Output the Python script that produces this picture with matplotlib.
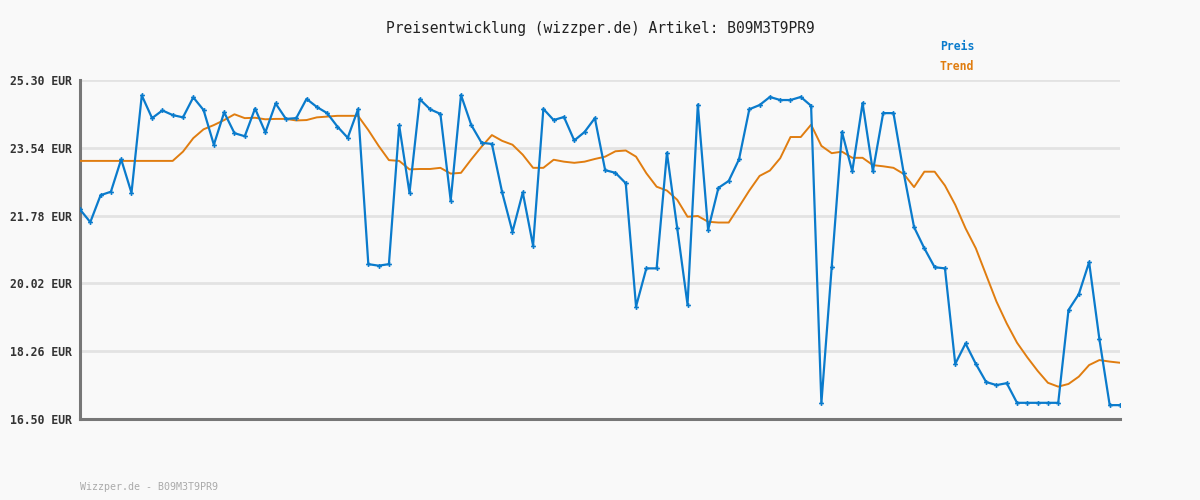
import matplotlib
matplotlib.use("Agg")
import matplotlib.pyplot as plt
import numpy as np

# price readings (EUR), one per step
preis = [21.94, 21.61, 22.31, 22.40, 23.24, 22.37, 24.90, 24.31, 24.51, 24.39,
         24.33, 24.85, 24.52, 23.62, 24.46, 23.92, 23.84, 24.56, 23.94, 24.69,
         24.29, 24.31, 24.81, 24.60, 24.44, 24.09, 23.80, 24.54, 20.52, 20.48,
         20.52, 24.12, 22.37, 24.80, 24.54, 24.42, 22.17, 24.91, 24.13, 23.67,
         23.64, 22.38, 21.36, 22.38, 21.00, 24.55, 24.26, 24.34, 23.73, 23.95,
         24.31, 22.96, 22.89, 22.62, 19.42, 20.41, 20.41, 23.41, 21.45, 19.47,
         24.66, 21.41, 22.50, 22.68, 23.24, 24.54, 24.65, 24.86, 24.78, 24.78,
         24.86, 24.63, 16.91, 20.44, 23.95, 22.93, 24.70, 22.93, 24.44, 24.44,
         22.88, 21.48, 20.93, 20.44, 20.41, 17.93, 18.46, 17.93, 17.46, 17.38,
         17.43, 16.92, 16.92, 16.92, 16.92, 16.92, 19.33, 19.74, 20.57, 18.57,
         16.86, 16.86]

trend = [23.20, 23.20, 23.20, 23.20, 23.20, 23.20, 23.20, 23.20, 23.20, 23.20,
         23.44, 23.79, 24.02, 24.13, 24.26, 24.41, 24.31, 24.32, 24.28, 24.29,
         24.29, 24.25, 24.26, 24.33, 24.35, 24.37, 24.37, 24.37, 24.00, 23.59,
         23.22, 23.20, 22.98, 22.99, 22.99, 23.02, 22.87, 22.89, 23.24, 23.57,
         23.87, 23.72, 23.62, 23.36, 23.02, 23.02, 23.23, 23.18, 23.15, 23.18,
         23.25, 23.31, 23.45, 23.47, 23.31, 22.88, 22.53, 22.43, 22.19, 21.75,
         21.77, 21.62, 21.60, 21.60, 22.01, 22.43, 22.81, 22.95, 23.27, 23.82,
         23.82, 24.14, 23.59, 23.40, 23.44, 23.28, 23.28, 23.09, 23.06, 23.02,
         22.86, 22.52, 22.92, 22.92, 22.56, 22.06, 21.45, 20.93, 20.24, 19.55,
         18.98, 18.48, 18.10, 17.75, 17.44, 17.34, 17.41, 17.60, 17.90, 18.03,
         17.99, 17.96]

y_ticks = [16.50, 18.26, 20.02, 21.78, 23.54, 25.30]
artikel = "B09M3T9PR9"

mono = "DejaVu Sans Mono"
bg = "#f9f9f9"
blue = "#0a7bcc"
orange = "#e07d10"

fig = plt.figure(figsize=(12, 5), dpi=100, facecolor=bg)
ax = fig.add_axes([80/1200, 1 - 419/500, 1040/1200, 339/500])
ax.set_facecolor(bg)

x = np.arange(len(preis))
ax.plot(x, trend, color=orange, lw=1.4, zorder=3)
ax.plot(x, preis, color=blue, lw=1.6, marker="P", ms=3.5, mew=0, zorder=4)

ax.set_xlim(0, len(preis) - 1)
ax.set_ylim(y_ticks[0], y_ticks[-1])
ax.set_yticks(y_ticks)
ax.set_yticklabels([f"{v:.2f} EUR" for v in y_ticks], fontfamily=mono,
                   fontweight="bold", fontsize=8.3, color="#333333")
ax.set_xticks([])
ax.tick_params(axis="y", length=0, pad=6)
ax.grid(axis="y", color="#e3e3e3", lw=2)
ax.set_axisbelow(True)

for s in ["top", "right"]:
    ax.spines[s].set_visible(False)
for s in ["left", "bottom"]:
    ax.spines[s].set_color("#777777")
    ax.spines[s].set_linewidth(2.2)

fig.text(0.5, 1 - 28/500, f"Preisentwicklung (wizzper.de) Artikel: {artikel}",
         ha="center", va="center", fontfamily=mono, fontsize=10.5, color="#222222")
fig.text(940/1200, 1 - 46/500, "Preis", ha="left", va="center",
         fontfamily=mono, fontweight="bold", fontsize=8.3, color=blue)
fig.text(940/1200, 1 - 67/500, "Trend", ha="left", va="center",
         fontfamily=mono, fontweight="bold", fontsize=8.3, color=orange)
fig.text(80/1200, 1 - 487/500, f"Wizzper.de - {artikel}", ha="left", va="center",
         fontfamily=mono, fontsize=7.2, color="#aaaaaa")

fig.savefig("out.png", dpi=100, facecolor=bg)
